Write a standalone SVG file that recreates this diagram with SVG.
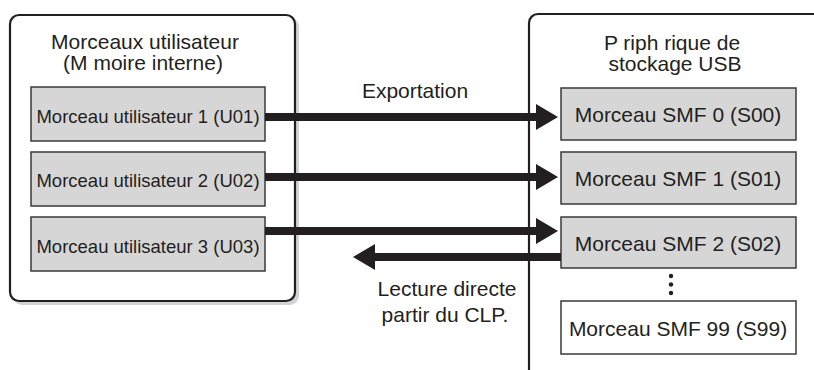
<svg xmlns="http://www.w3.org/2000/svg" width="814" height="370" viewBox="0 0 814 370">
<defs>
<style>
.t{font-family:"Liberation Sans",Arial,sans-serif;fill:#231f20;font-size:21px;text-anchor:middle}
.ts{font-size:18.5px}
.panel{fill:#fff;stroke:#231f20;stroke-width:2.2}
.shadow{fill:#d2d3d5}
.box{fill:#d6d6d7;stroke:#3a3a3a;stroke-width:1.5}
.wbox{fill:#fff;stroke:#3a3a3a;stroke-width:1.5}
.conn{stroke:#231f20;stroke-width:8;fill:none}
.head{fill:#231f20}
</style>
</defs>
<g id="panel-left">
<rect class="shadow" x="13" y="18" width="286" height="287" rx="9"/>
<rect class="panel" x="10" y="15" width="285" height="286" rx="9"/>
<text class="t" x="145" y="49">Morceaux utilisateur</text>
<text class="t" x="143" y="70">(M moire interne)</text>
</g>
<g id="panel-right">
<rect class="shadow" x="532" y="17" width="300" height="370" rx="9"/>
<rect class="panel" x="529" y="14" width="300" height="370" rx="9"/>
<text class="t" x="672" y="50">P riph rique de</text>
<text class="t" x="675" y="71">stockage USB</text>
</g>
<g id="u01"><rect class="box" x="31" y="87" width="234" height="54"/><text class="t ts" x="148" y="123">Morceau utilisateur 1 (U01)</text></g>
<g id="u02"><rect class="box" x="31" y="152" width="234" height="54"/><text class="t ts" x="148" y="187">Morceau utilisateur 2 (U02)</text></g>
<g id="u03"><rect class="box" x="31" y="217" width="234" height="54"/><text class="t ts" x="148" y="253">Morceau utilisateur 3 (U03)</text></g>
<g id="s00"><rect class="box" x="561" y="88" width="235" height="52"/><text class="t" x="678" y="122">Morceau SMF 0 (S00)</text></g>
<g id="s01"><rect class="box" x="561" y="152" width="235" height="52"/><text class="t" x="678" y="186">Morceau SMF 1 (S01)</text></g>
<g id="s02"><rect class="box" x="561" y="217" width="235" height="51"/><text class="t" x="678" y="251">Morceau SMF 2 (S02)</text></g>
<g id="dots" fill="#231f20"><circle cx="671" cy="276" r="2.2"/><circle cx="671" cy="284.5" r="2.2"/><circle cx="671" cy="293" r="2.2"/></g>
<g id="s99"><rect class="wbox" x="561" y="301" width="235" height="53"/><text class="t" x="678" y="336">Morceau SMF 99 (S99)</text></g>
<g id="connectors">
<line class="conn" x1="265" y1="117" x2="538" y2="117"/>
<polygon class="head" points="536,104 558,117 536,130"/>
<line class="conn" x1="265" y1="177" x2="538" y2="177"/>
<polygon class="head" points="536,164 558,177 536,190"/>
<line class="conn" x1="265" y1="231" x2="538" y2="231"/>
<polygon class="head" points="536,218 558,231 536,244"/>
<line class="conn" x1="561" y1="257" x2="373" y2="257"/>
<polygon class="head" points="375,244 353,257 375,270"/>
</g>
<text class="t" x="415" y="98">Exportation</text>
<text class="t" x="447" y="296">Lecture directe</text>
<text class="t" x="445" y="322">partir du CLP.</text>
</svg>
